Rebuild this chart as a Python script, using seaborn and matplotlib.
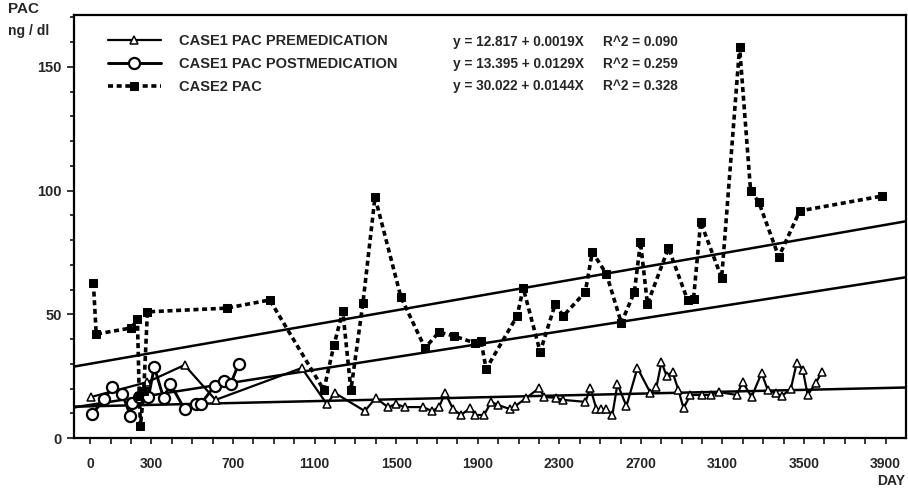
import matplotlib
matplotlib.use("Agg")
import matplotlib.pyplot as plt
import seaborn as sns

# ---------------- data ----------------
pre_day = [5, 280, 462, 614, 1037, 1160, 1199, 1346, 1400, 1459, 1499, 1543, 1631,
           1676, 1710, 1740, 1779, 1818, 1862, 1887, 1931, 1966, 2000, 2059, 2084,
           2138, 2201, 2226, 2285, 2319, 2428, 2452, 2482, 2506, 2531, 2560, 2585,
           2629, 2683, 2747, 2776, 2801, 2826, 2855, 2884, 2909, 2943, 2998, 3042,
           3081, 3170, 3199, 3243, 3292, 3322, 3361, 3391, 3435, 3464, 3494, 3518,
           3558, 3587]
pre_val = [16.6, 22.6, 29.5, 15.4, 28.3, 13.7, 18.2, 10.9, 16.2, 12.5, 13.7, 12.5, 12.5,
           10.9, 12.5, 18.2, 11.7, 9.3, 12.1, 9.3, 9.3, 14.6, 13.3, 11.7, 12.9,
           16.2, 20.2, 16.6, 16.2, 15.4, 14.6, 20.2, 11.7, 11.7, 11.7, 9.3, 21.8,
           12.9, 28.3, 18.2, 20.6, 30.7, 25.1, 26.7, 19.4, 12.1, 17.4, 17.4, 17.4,
           18.6, 17.4, 22.6, 16.6, 26.3, 19.4, 18.2, 17.0, 19.8, 30.3, 27.5, 17.4,
           22.2, 26.7]

post_day = [10, 69, 108, 157, 197, 206, 241, 285, 314, 359, 393, 462, 516, 541,
            609, 658, 688, 727]
post_val = [9.7, 15.8, 20.6, 17.8, 8.9, 14.1, 16.6, 16.6, 28.7, 16.2, 21.8, 11.7,
            13.7, 13.7, 21.0, 23.0, 21.8, 29.9]

case2_day = [15, 29, 201, 231, 240, 246, 262, 280, 668, 880, 1145, 1195, 1238, 1278,
             1337, 1396, 1523, 1641, 1710, 1784, 1887, 1916, 1941, 2093, 2123, 2206,
             2280, 2319, 2427, 2462, 2531, 2604, 2668, 2698, 2732, 2835, 2929, 2958,
             2993, 3096, 3184, 3238, 3278, 3376, 3479, 3882]
case2_val = [62.7, 42.0, 44.5, 48.0, 17.0, 5.0, 19.0, 51.0, 52.5, 55.8, 19.4, 37.6,
             51.3, 19.4, 54.6, 97.4, 57.0, 36.4, 42.8, 41.2, 38.4, 39.2, 27.9, 49.3,
             60.6, 34.8, 54.2, 49.3, 59.0, 75.2, 66.3, 46.5, 59.0, 79.2, 54.2, 76.8,
             55.8, 56.2, 87.3, 64.7, 158.0, 99.8, 95.4, 73.2, 91.8, 97.8]

series_labels = ["CASE1 PAC PREMEDICATION", "CASE1 PAC POSTMEDICATION", "CASE2 PAC"]
fit_intercepts = [12.817, 13.395, 30.022]
fit_slopes = [0.0019, 0.0129, 0.0144]
fit_r2 = [0.090, 0.259, 0.328]

x_tick_values = [0, 300, 700, 1100, 1500, 1900, 2300, 2700, 3100, 3500, 3900]
y_tick_values = [0, 50, 100, 150]

# ---------------- style ----------------
sns.set_style("ticks")
plt.rcParams["font.family"] = ["Liberation Sans", "DejaVu Sans"]
plt.rcParams["font.weight"] = "bold"

W, H = 908, 488
fig = plt.figure(figsize=(W / 100, H / 100), dpi=100)
L, R, T, B = 74, 906, 15, 438
ax = fig.add_axes([L / W, 1 - B / H, (R - L) / W, (B - T) / H])

XMIN, XMAX = -80, 4000
YMIN, YMAX = 0, 171

# regression lines across the full x range
fit_x = [XMIN, XMAX]
for b, m in zip(fit_intercepts, fit_slopes):
    sns.lineplot(x=fit_x, y=[b + m * x for x in fit_x], ax=ax, color="black",
                 linewidth=1.8, legend=False, estimator=None, sort=False)

# data series
sns.lineplot(x=pre_day, y=pre_val, ax=ax, color="black", linewidth=1.6,
             marker="^", markersize=6, markerfacecolor="white",
             markeredgecolor="black", markeredgewidth=1.1,
             estimator=None, sort=False, label=series_labels[0])
sns.lineplot(x=post_day, y=post_val, ax=ax, color="black", linewidth=2.1,
             marker="o", markersize=8, markerfacecolor="white",
             markeredgecolor="black", markeredgewidth=1.6,
             estimator=None, sort=False, label=series_labels[1])
sns.lineplot(x=case2_day, y=case2_val, ax=ax, color="black", linewidth=2.6,
             marker="s", markersize=6, markerfacecolor="black",
             markeredgecolor="black", estimator=None, sort=False,
             label=series_labels[2])
ax.lines[-1].set_dashes((1.4, 1.0))

ax.set_xlim(XMIN, XMAX)
ax.set_ylim(YMIN, YMAX)

ax.set_xticks(x_tick_values)
ax.set_xticks(list(range(0, 4000, 100)), minor=True)
ax.set_yticks(y_tick_values)
ax.set_yticks(list(range(0, 171, 10)), minor=True)
ax.set_xticklabels([str(v) for v in x_tick_values], fontsize=10, fontweight="bold")
ax.set_yticklabels([str(v) for v in y_tick_values], fontsize=10.5, fontweight="bold")
ax.tick_params(axis="x", which="major", direction="out", length=4, width=1.3, pad=10)
ax.tick_params(axis="x", which="minor", direction="out", length=4, width=1.3)
ax.tick_params(axis="y", which="major", direction="out", length=5, width=1.3, pad=4)
ax.tick_params(axis="y", which="minor", direction="out", length=3, width=1.3)
ax.set_xlabel("")
ax.set_ylabel("")
for s in ax.spines.values():
    s.set_visible(True)
    s.set_linewidth(1.6)
    s.set_color("black")

# legend
handles, labels = ax.get_legend_handles_labels()
ax.legend(handles, labels, loc="upper left",
          bbox_to_anchor=(108 / W, 1 - 34 / H), bbox_transform=fig.transFigure,
          frameon=False, handlelength=3.6, handletextpad=1.25, labelspacing=0.62,
          borderpad=0, borderaxespad=0, prop={"weight": "bold", "size": 10.5})

# equations
row_y = [42, 64, 86]
for b, m, r2, yy in zip(fit_intercepts, fit_slopes, fit_r2, row_y):
    fig.text(453 / W, 1 - yy / H, f"y = {b:.3f} + {m:.4f}X", fontsize=9.8,
             fontweight="bold", ha="left", va="center")
    fig.text(603 / W, 1 - yy / H, f"R^2 = {r2:.3f}", fontsize=9.8,
             fontweight="bold", ha="left", va="center")

# axis titles
fig.text(8 / W, 1 - 9 / H, "PAC", fontsize=11, fontweight="bold", ha="left", va="center")
fig.text(8 / W, 1 - 31 / H, "ng / dl", fontsize=10, fontweight="bold", ha="left", va="center")
fig.text(905 / W, 1 - 481 / H, "DAY", fontsize=10, fontweight="bold", ha="right", va="center")

fig.savefig("out.png", dpi=100, facecolor="white")
